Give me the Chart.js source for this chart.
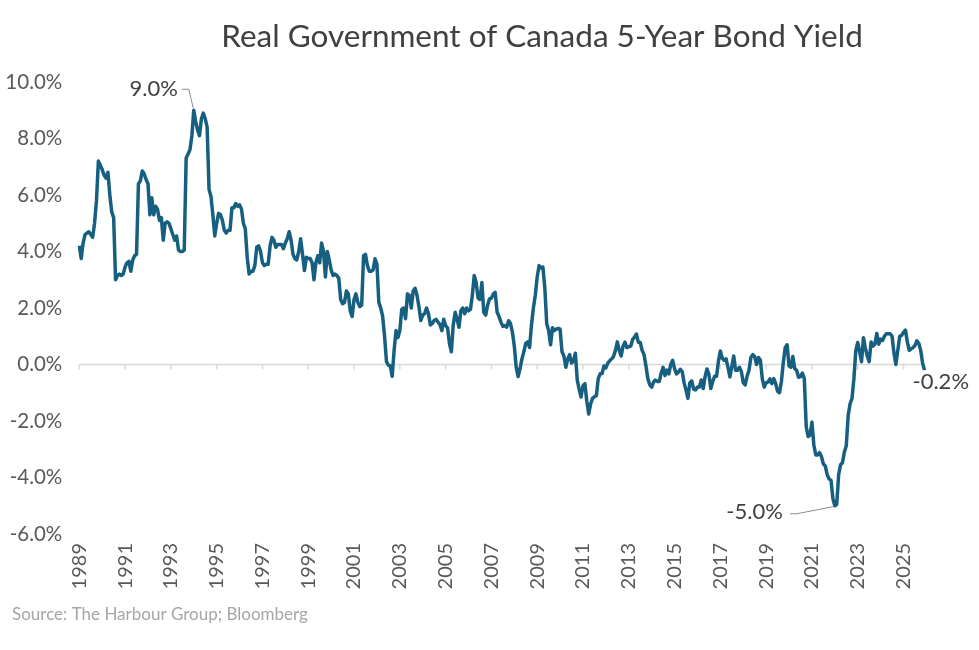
<!DOCTYPE html>
<html>
<head>
<meta charset="utf-8">
<title>Real Government of Canada 5-Year Bond Yield</title>
<script src="https://cdn.jsdelivr.net/npm/chart.js@4.4.1/dist/chart.umd.min.js"></script>
<style>
  html, body { margin: 0; padding: 0; background: #fff; }
  #wrap { width: 979px; height: 650px; }
</style>
</head>
<body>
<div id="wrap"><canvas id="chart" width="979" height="650"></canvas></div>
<script>
// monthly real yield (%), Jan 1989 .. Dec 2025, one row per year
const startYear = 1989
const realYield = [
  4.2, 3.75, 4.3, 4.6, 4.65, 4.7, 4.6, 4.5, 5.0, 5.8, 7.2, 7.05,
  6.9, 6.7, 6.6, 6.8, 6.0, 5.4, 5.2, 3.0, 3.15, 3.2, 3.15, 3.2,
  3.45, 3.6, 3.65, 3.3, 3.7, 3.85, 3.9, 6.4, 6.5, 6.85, 6.75, 6.55,
  6.4, 5.3, 5.9, 5.3, 5.6, 5.5, 5.1, 5.2, 4.4, 5.0, 5.05, 5.0,
  4.8, 4.6, 4.4, 4.55, 4.05, 4.0, 4.0, 4.05, 7.3, 7.45, 7.6, 8.1,
  9.0, 8.6, 8.3, 8.1, 8.7, 8.9, 8.7, 8.4, 6.2, 5.95, 5.3, 4.55,
  5.0, 5.35, 5.3, 5.1, 4.75, 4.65, 4.75, 4.75, 5.55, 5.55, 5.7, 5.6,
  5.65, 5.5, 5.0, 4.8, 3.8, 3.2, 3.3, 3.3, 3.5, 4.15, 4.2, 4.0,
  3.6, 3.5, 3.55, 3.55, 4.2, 4.5, 4.4, 4.15, 4.25, 4.25, 4.25, 4.1,
  4.3, 4.45, 4.7, 4.4, 3.9, 3.75, 3.7, 4.0, 4.45, 3.9, 3.33, 3.8,
  3.75, 3.75, 3.6, 3.0, 3.6, 3.85, 3.6, 4.3, 4.0, 3.1, 4.0, 3.7,
  3.35, 3.15, 3.2, 3.15, 3.05, 2.3, 2.15, 2.2, 2.6, 2.5, 1.9, 1.7,
  2.3, 2.5, 2.2, 2.05, 2.1, 3.85, 3.9, 3.5, 3.3, 3.3, 3.35, 3.74,
  3.55, 2.2, 2.0, 1.7, 1.0, 0.1, -0.02, -0.05, -0.42, 0.5, 1.2, 0.95,
  1.2, 1.95, 2.0, 1.62, 2.5, 2.45, 2.0, 2.6, 2.7, 2.45, 2.05, 1.56,
  1.75, 1.8, 2.0, 1.8, 1.4, 1.45, 1.56, 1.6, 1.5, 1.42, 1.2, 1.6,
  1.38, 1.3, 0.75, 0.45, 1.4, 1.85, 1.6, 1.32, 1.9, 2.0, 1.8, 2.0,
  1.9, 1.95, 2.44, 3.15, 2.9, 2.35, 2.3, 2.9, 1.85, 1.75, 2.1, 2.32,
  2.35, 2.5, 2.55, 1.85, 1.7, 1.5, 1.35, 1.38, 1.32, 1.55, 1.45, 1.15,
  0.65, -0.1, -0.43, -0.15, 0.2, 0.45, 0.75, 0.8, 0.6, 1.4, 2.0, 2.45,
  3.1, 3.5, 3.42, 3.45, 2.7, 1.44, 1.2, 0.7, 1.3, 1.2, 1.25, 1.28,
  1.25, 0.45, 0.3, -0.1, 0.2, 0.35, 0.05, 0.12, 0.4, -0.55, -0.88, -1.15,
  -0.75, -0.68, -1.3, -1.75, -1.4, -1.2, -1.14, -1.1, -0.5, -0.33, -0.32, -0.05,
  -0.12, 0.05, 0.13, 0.2, 0.28, 0.5, 0.8, 0.5, 0.3, 0.65, 0.79, 0.6,
  0.63, 0.65, 0.88, 0.97, 1.08, 0.79, 0.78, 0.5, 0.35, -0.05, -0.5, -0.72,
  -0.8, -0.62, -0.55, -0.6, -0.6, -0.3, -0.1, -0.39, -0.2, -0.33, 0.0, 0.15,
  -0.15, -0.33, -0.27, -0.17, -0.25, -0.65, -0.9, -1.2, -0.65, -0.58, -0.87, -0.9,
  -0.8, -0.8, -0.55, -0.85, -0.43, -0.16, -0.35, -0.85, -0.6, -0.42, -0.42, 0.12,
  0.48, 0.22, 0.15, 0.2, -0.1, -0.44, -0.08, 0.3, -0.2, -0.2, -0.1, -0.25,
  -0.64, -0.72, -0.42, -0.2, 0.25, 0.35, 0.28, 0.0, 0.25, 0.15, -0.52, -0.8,
  -0.65, -0.62, -0.51, -0.68, -0.5, -0.68, -0.95, -1.0, -0.6, 0.08, 0.6, 0.7,
  -0.05, -0.1, 0.28, -0.15, -0.21, -0.45, -0.43, -0.3, -0.5, -2.2, -2.55, -2.5,
  -2.04, -2.85, -3.2, -3.2, -3.12, -3.26, -3.52, -3.6, -3.9, -4.05, -4.1, -4.75,
  -5.0, -4.95, -3.9, -3.55, -3.48, -3.1, -2.88, -1.8, -1.39, -1.2, -0.5, 0.5,
  0.78, 0.45, 0.1, 0.95, 0.58, 0.3, 0.1, 0.8, 0.65, 0.72, 1.1, 0.72,
  0.9, 0.85, 1.0, 1.09, 1.09, 1.09, 1.0, 0.4, 0.0, 0.5, 1.0, 1.03,
  1.14, 1.22, 0.8, 0.5, 0.55, 0.6, 0.67, 0.84, 0.75, 0.5, 0.05, -0.2
]

const shownYears = [1989, 1991, 1993, 1995, 1997, 1999, 2001, 2003, 2005,
  2007, 2009, 2011, 2013, 2015, 2017, 2019, 2021, 2023, 2025]

// labelled points: 1994 peak, 2022 trough, latest reading
const callouts = [
  { month: "1994-01", text: "9.0%" },
  { month: "2022-01", text: "-5.0%" },
  { month: "2025-12", text: "-0.2%" }
]

const months = realYield.map((_, i) =>
  `${startYear + Math.floor(i / 12)}-${String(i % 12 + 1).padStart(2, "0")}`)

const FONT = "Lato, 'Open Sans', sans-serif"

const isShownTick = (i) => {
  const [y, m] = months[i].split("-")
  return m === "01" && shownYears.includes(+y)
}

const decor = {
  id: "decor",
  beforeDatasetsDraw(chart) {
    const { ctx, chartArea, scales: { x, y } } = chart
    const y0 = y.getPixelForValue(0)
    ctx.save()
    ctx.strokeStyle = "#d9d9d9"
    ctx.lineWidth = 1.5
    ctx.beginPath()
    ctx.moveTo(chartArea.left, y0)
    ctx.lineTo(chartArea.right, y0)
    months.forEach((_, i) => {
      if (!isShownTick(i)) return
      const px = x.getPixelForValue(i)
      ctx.moveTo(px, y0)
      ctx.lineTo(px, y0 + 5)
    })
    ctx.stroke()
    ctx.restore()
  },
  afterDraw(chart) {
    const { ctx, scales: { x, y } } = chart
    ctx.save()
    ctx.fillStyle = "#404040"
    ctx.font = `31.5px ${FONT}`
    ctx.textAlign = "center"
    ctx.textBaseline = "middle"
    ctx.fillText("Real Government of Canada 5-Year Bond Yield", 542, 37)

    ctx.fillStyle = "#a6a6a6"
    ctx.font = `17px ${FONT}`
    ctx.textAlign = "left"
    ctx.fillText("Source: The Harbour Group; Bloomberg", 12, 615)

    ctx.font = `22px ${FONT}`
    ctx.fillStyle = "#404040"
    ctx.strokeStyle = "#8c8c8c"
    ctx.lineWidth = 1
    callouts.forEach((c, k) => {
      const i = months.indexOf(c.month)
      const px = x.getPixelForValue(i)
      const py = y.getPixelForValue(realYield[i])
      if (k === 0) {
        ctx.textAlign = "right"
        ctx.fillText(c.text, px - 16, py - 21)
        ctx.beginPath()
        ctx.moveTo(px - 12, py - 21)
        ctx.lineTo(px - 5, py - 21)
        ctx.lineTo(px - 0.5, py - 2)
        ctx.stroke()
      } else if (k === 1) {
        ctx.textAlign = "right"
        ctx.fillText(c.text, px - 52, py + 6)
        ctx.beginPath()
        ctx.moveTo(px - 45, py + 8)
        ctx.lineTo(px - 38, py + 8)
        ctx.lineTo(px - 2, py + 1)
        ctx.stroke()
      } else {
        ctx.textAlign = "left"
        ctx.fillText(c.text, px - 12, py + 12)
      }
    })
    ctx.restore()
  }
}

new Chart(document.getElementById("chart"), {
  type: "line",
  data: {
    labels: months,
    datasets: [{
      label: "Real 5-Year Yield",
      data: realYield,
      borderColor: "#175f80",
      borderWidth: 3.5,
      pointRadius: 0,
      borderJoinStyle: "round",
      tension: 0,
      fill: false
    }]
  },
  options: {
    responsive: false,
    animation: false,
    layout: { padding: { top: 82, right: 54.5, bottom: 0, left: 0 } },
    plugins: {
      legend: { display: false },
      tooltip: { enabled: false }
    },
    scales: {
      x: {
        grid: { display: false, drawTicks: false },
        border: { display: false },
        afterFit(s) { s.height = 116 },
        ticks: {
          autoSkip: false,
          minRotation: 90,
          maxRotation: 90,
          padding: 9,
          color: "#595959",
          font: { family: FONT, size: 20 },
          callback: (v, i) => isShownTick(i) ? months[i].slice(0, 4) : null
        }
      },
      y: {
        min: -6,
        max: 10,
        grid: { display: false, drawTicks: false },
        border: { display: false },
        afterFit(s) { s.width = 79.3 },
        ticks: {
          stepSize: 2,
          padding: 17,
          color: "#595959",
          font: { family: FONT, size: 20.5 },
          callback: (v) => v.toFixed(1) + "%"
        }
      }
    }
  },
  plugins: [decor]
})
</script>
</body>
</html>
